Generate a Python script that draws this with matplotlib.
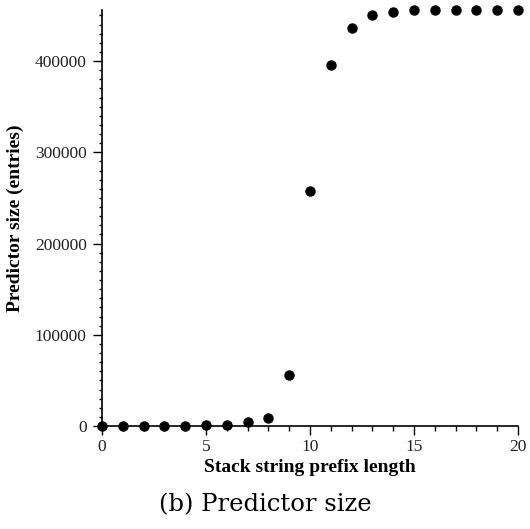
import numpy as np
import matplotlib
matplotlib.use('Agg')
import matplotlib.pyplot as plt
from matplotlib.ticker import MultipleLocator

# prefix length vs predictor size (entries)
prefix_len = list(range(0, 21))
pred_size = [0, 100, 200, 300, 500, 800, 1500, 4500, 9000, 56000,
             258000, 395500, 436700, 450200, 453800, 455700,
             455800, 455900, 456000, 456000, 456000]

plt.rcParams['font.family'] = ['Liberation Serif', 'DejaVu Serif']

fig = plt.figure(figsize=(5.30, 5.29), dpi=100)
ax = fig.add_axes([0.1925, 0.1947, 0.7849, 0.7864])

ax.plot(prefix_len, pred_size, 'o', color='black', markersize=6.5, clip_on=False)

ax.set_xlim(0, 20)
ax.set_ylim(0, 456000)
ax.xaxis.set_major_locator(MultipleLocator(5))
ax.xaxis.set_minor_locator(MultipleLocator(1))
ax.yaxis.set_major_locator(MultipleLocator(100000))
ax.yaxis.set_minor_locator(MultipleLocator(10000))

# Turn off top/right axes
ax.spines['top'].set_visible(False)
ax.spines['right'].set_visible(False)
ax.spines['left'].set_linewidth(1.2)
ax.spines['bottom'].set_linewidth(1.2)
ax.tick_params(which='both', direction='out', width=1, color='black',
               labelsize=12.5, labelcolor='#222222')
ax.tick_params(axis='x', which='major', length=6.5, pad=3)
ax.tick_params(axis='x', which='minor', length=3.6)
ax.tick_params(axis='y', which='major', length=6.5, pad=4.5)
ax.tick_params(axis='y', which='minor', length=2.5)

ax.set_xlabel('Stack string prefix length', fontsize=14, fontweight='bold', labelpad=3)
ax.set_ylabel('Predictor size (entries)', fontsize=14, fontweight='bold', labelpad=8)

fig.text(0.5, 0.045, '(b) Predictor size', ha='center', va='center',
         fontsize=17.5, family='DejaVu Serif')

plt.savefig('out.png', dpi=100)
